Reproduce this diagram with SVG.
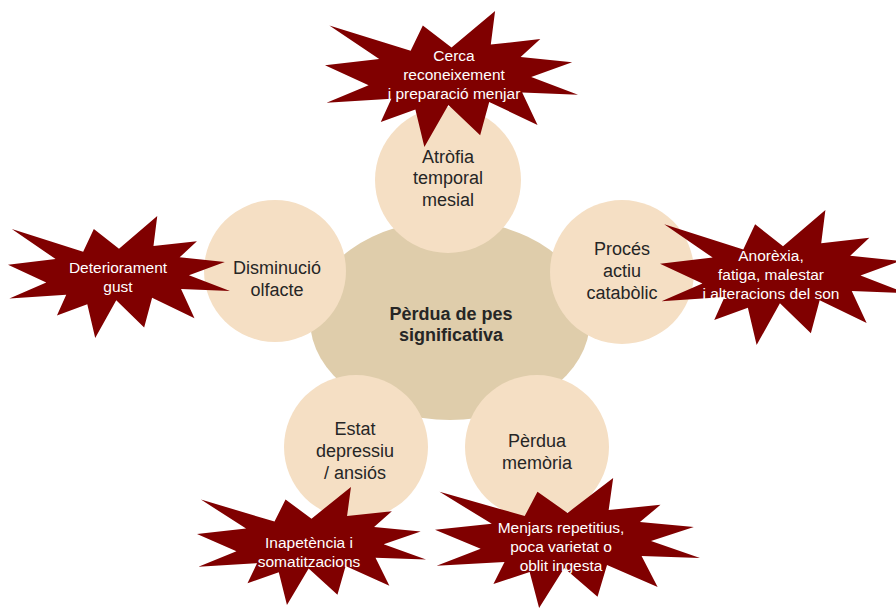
<svg xmlns="http://www.w3.org/2000/svg" xmlns:xlink="http://www.w3.org/1999/xlink" width="896" height="608" viewBox="0 0 896 608">
  <style>
    .core { fill: #dfcdab; }
    .bubble { fill: #f5dfc4; }
    .burst { fill: #800000; }
    .lbl { font-family: "Liberation Sans", Arial, sans-serif; font-size: 18px; fill: #262626; text-anchor: middle; }
    .core-lbl { font-weight: bold; }
    .burst-lbl { font-family: "Liberation Sans", Arial, sans-serif; font-size: 15.5px; fill: #ffffff; text-anchor: middle; }
  </style>
  <defs>
    <!-- explosion outline in a 216 x 216 box -->
    <polygon id="seal" points="108,58 145.22,0 141.55,53.25 183.8,44.57 167.02,73.15 210.97,81.37 176.07,104.75 216,132.9 168.37,129.42 181.45,180.95 140.2,144.57 132.47,197.37 105.32,149.35 84.85,216 77.15,156.27 47.62,176.17 56.67,139.37 1.35,145.87 37.22,117.75 0,86.15 46.27,76.17 3.7,22.95 73.12,63.2 83.52,22.95"/>
  </defs>

  <rect width="896" height="608" fill="#ffffff"/>

  <g id="center">
    <ellipse class="core" cx="450" cy="320" rx="140" ry="100"/>
    <text class="lbl core-lbl" x="451" y="320">Pèrdua de pes</text>
    <text class="lbl core-lbl" x="451" y="341">significativa</text>
  </g>

  <g id="node-atrofia">
    <circle class="bubble" cx="448" cy="180" r="73"/>
    <text class="lbl" x="448" y="163">Atròfia</text>
    <text class="lbl" x="448" y="184">temporal</text>
    <text class="lbl" x="448" y="206">mesial</text>
  </g>

  <g id="node-olfacte">
    <circle class="bubble" cx="275" cy="271" r="71"/>
    <text class="lbl" x="277" y="274">Disminució</text>
    <text class="lbl" x="277" y="296">olfacte</text>
  </g>

  <g id="node-catabolic">
    <circle class="bubble" cx="622" cy="272" r="72"/>
    <text class="lbl" x="622" y="255">Procés</text>
    <text class="lbl" x="622" y="277">actiu</text>
    <text class="lbl" x="622" y="299">catabòlic</text>
  </g>

  <g id="node-depressiu">
    <circle class="bubble" cx="356" cy="447" r="72"/>
    <text class="lbl" x="355" y="435">Estat</text>
    <text class="lbl" x="355" y="457">depressiu</text>
    <text class="lbl" x="355" y="479">/ ansiós</text>
  </g>

  <g id="node-memoria">
    <circle class="bubble" cx="537" cy="447" r="72"/>
    <text class="lbl" x="537" y="447">Pèrdua</text>
    <text class="lbl" x="537" y="469">memòria</text>
  </g>

  <g id="burst-menjar">
    <use xlink:href="#seal" href="#seal" class="burst" transform="translate(325 11) scale(1.1713 0.6296)"/>
    <text class="burst-lbl" x="454" y="61">Cerca</text>
    <text class="burst-lbl" x="454" y="80">reconeixement</text>
    <text class="burst-lbl" x="454" y="99">i preparació menjar</text>
  </g>

  <g id="burst-gust">
    <use xlink:href="#seal" href="#seal" class="burst" transform="translate(8 216) scale(1.0278 0.5648)"/>
    <text class="burst-lbl" x="118" y="273">Deteriorament</text>
    <text class="burst-lbl" x="118" y="292">gust</text>
  </g>

  <g id="burst-anorexia">
    <use xlink:href="#seal" href="#seal" class="burst" transform="translate(660 210) scale(1.1389 0.625)"/>
    <text class="burst-lbl" x="771" y="261">Anorèxia,</text>
    <text class="burst-lbl" x="771" y="280">fatiga, malestar</text>
    <text class="burst-lbl" x="771" y="299">i alteracions del son</text>
  </g>

  <g id="burst-inapetencia">
    <use xlink:href="#seal" href="#seal" class="burst" transform="translate(197 487) scale(1.0602 0.5463)"/>
    <text class="burst-lbl" x="309" y="548">Inapetència i</text>
    <text class="burst-lbl" x="309" y="567">somatitzacions</text>
  </g>

  <g id="burst-repetitius">
    <use xlink:href="#seal" href="#seal" class="burst" transform="translate(435 478) scale(1.2269 0.6019)"/>
    <text class="burst-lbl" x="561" y="533">Menjars repetitius,</text>
    <text class="burst-lbl" x="561" y="552">poca varietat o</text>
    <text class="burst-lbl" x="561" y="571">oblit ingesta</text>
  </g>

  <g id="connectors"/>
</svg>
